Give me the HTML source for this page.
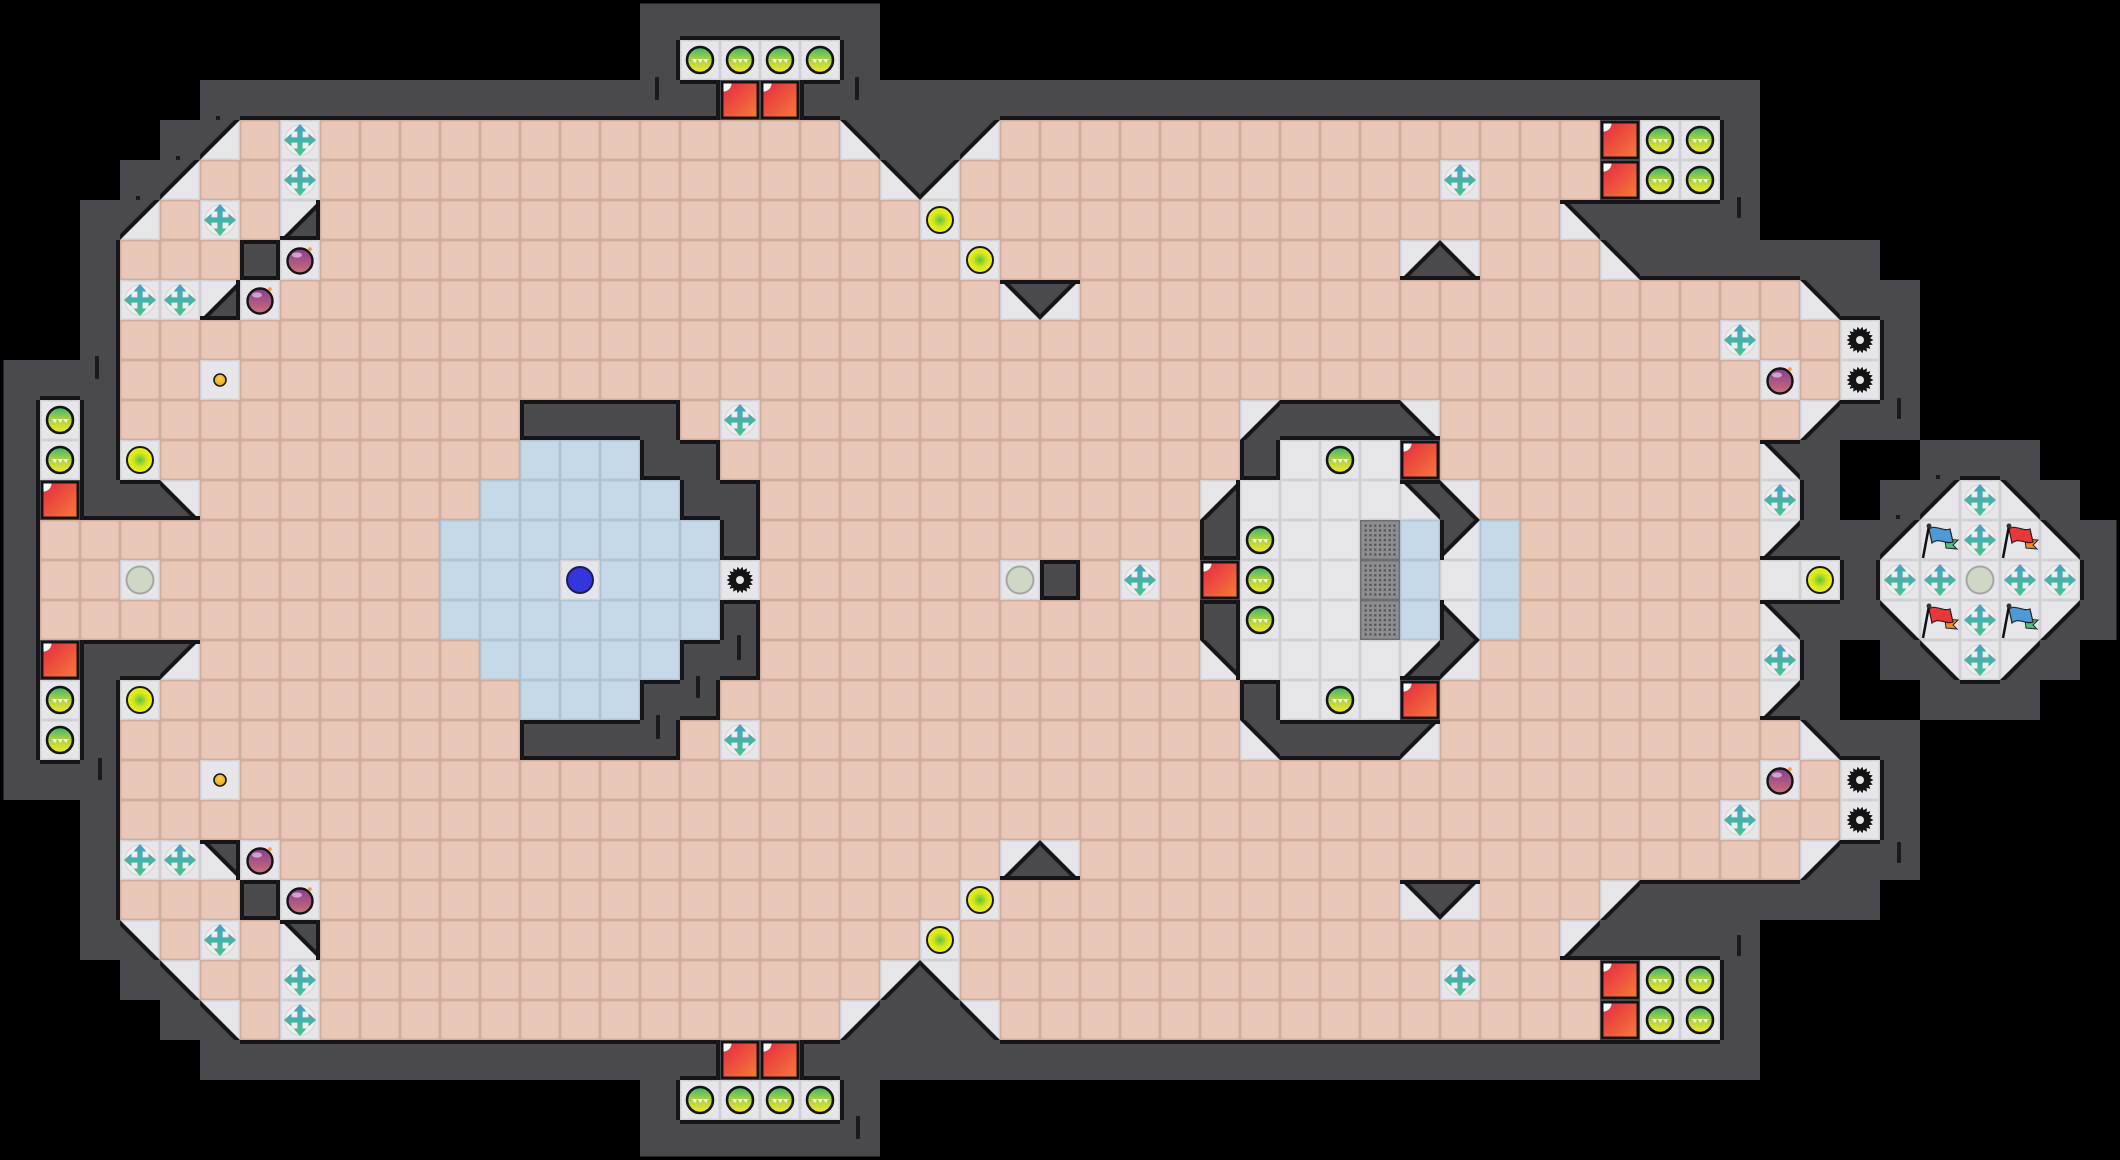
<!DOCTYPE html>
<html><head><meta charset="utf-8"><title>map</title>
<style>html,body{margin:0;padding:0;background:#000;overflow:hidden}#wrap{width:2120px;height:1160px;background:#000}svg{display:block}</style>
</head><body><div id="wrap"></div>
<script>
(function(){
var F=function(n){return 'f'.repeat(n)},V=function(n){return '.'.repeat(n)},W=function(n){return '#'.repeat(n)};
var T=[
V(16)+W(6)+V(31),
V(16)+'#GGGG#'+V(31),
V(5)+W(13)+'RR'+W(24)+V(9),
V(4)+'#Af+'+F(13)+'B##A'+F(15)+'RGG#'+V(9),
V(3)+'#Aff+'+F(14)+'BA'+F(12)+'+fffRGG#'+V(9),
V(2)+'#Af+fD'+F(15)+'y'+F(15)+'B'+W(4)+V(9),
V(2)+'#fff#o'+F(16)+'y'+F(10)+'DCfffB'+W(6)+V(6),
V(2)+'#++Do'+F(18)+'BA'+F(18)+'B##'+V(5),
V(2)+'#'+F(40)+'+ffx#'+V(5),
'###ffu'+F(38)+'ofx#'+V(5),
'#G#'+F(10)+'####f+'+F(12)+'D###C'+F(9)+'D##'+V(5),
'#G#y'+F(9)+'bbb##'+F(13)+'#gGgR'+F(8)+'B#..###..',
'#R##C'+F(7)+'bbbbb##'+F(11)+'DggggBC'+F(7)+'+#.#A+B#.',
'#'+F(10)+'bbbbbbb#'+F(11)+'#GggzbAb'+F(6)+'D##AF+EB#',
'#ffn'+F(7)+'bbbPbbbx'+F(6)+'n#f+fRGggzbgb'+F(6)+'gy#++n++#'
];
var M=T.slice();
var sw={A:'C',C:'A',B:'D',D:'B',F:'E',E:'F'};
for(var r=15;r<29;r++){M[r]=T[28-r].split('').map(function(c){return sw[c]||c}).join('');}
var o=[];
function G(c,r){if(r<0||r>=29||c<0||c>=53)return '.';return M[r].charAt(c)||'.';}
var DM={A:'tl',B:'tr',C:'bl',D:'br'};
function dark(ch,s){if(ch==='#')return true;var m=DM[ch];return m?m.indexOf(s)>=0:false;}
function base(x,y,b,f){o.push('<rect x="'+x+'" y="'+y+'" width="40" height="40" fill="'+b+'"/><rect x="'+(x+1.5)+'" y="'+(y+1.5)+'" width="37" height="37" fill="'+f+'"/>');}
var WALL='#4a494e',EDGE='#161618';
for(var r=0;r<29;r++)for(var c=0;c<53;c++){
 var ch=G(c,r),x=c*40,y=r*40;
 if(ch==='.'||ch==='#')continue;
 if(ch==='f')base(x,y,'#d4ae9d','#e9c7b8');
 else if(ch==='b')base(x,y,'#afc5d5','#c5d9e8');
 else if(ch==='R'){o.push('<rect x="'+x+'" y="'+y+'" width="40" height="40" fill="'+WALL+'"/>');}
 else base(x,y,'#cfcfd4','#e6e6ea');
}
for(var r=0;r<29;r++)for(var c=0;c<53;c++){
 if(G(c,r)==='#')o.push('<rect x="'+(c*40)+'" y="'+(r*40)+'" width="40" height="40" fill="'+WALL+'"/>');
}
var CR={A:[[0,0],[40,0],[0,40]],B:[[40,0],[40,40],[0,0]],C:[[0,40],[0,0],[40,40]],D:[[40,40],[0,40],[40,0]]};
for(var r=0;r<29;r++)for(var c=0;c<53;c++){
 var ch=G(c,r);if(!CR[ch])continue;
 var x=c*40,y=r*40,k=CR[ch],cc=k[0],p1=k[1],p2=k[2],d=5.7;
 var q1=[p1[0]+(cc[0]-p1[0])/40*d,p1[1]+(cc[1]-p1[1])/40*d],q2=[p2[0]+(cc[0]-p2[0])/40*d,p2[1]+(cc[1]-p2[1])/40*d];
 var P=function(a){return (x+a[0])+','+(y+a[1]);};
 o.push('<polygon points="'+P(cc)+' '+P(p1)+' '+P(p2)+'" fill="'+EDGE+'"/>');
 o.push('<polygon points="'+P(cc)+' '+P(q1)+' '+P(q2)+'" fill="'+WALL+'"/>');
}
var sides=[['t',0,-1,'b'],['b',0,1,'t'],['l',-1,0,'r'],['r',1,0,'l']];
for(var r=0;r<29;r++)for(var c=0;c<53;c++){
 var ch=G(c,r);if(ch!=='#'&&!CR[ch])continue;
 var x=c*40,y=r*40;
 for(var i=0;i<4;i++){var s=sides[i];if(!dark(ch,s[0]))continue;var n=G(c+s[1],r+s[2]);if(n==='.')continue;if(dark(n,s[3]))continue;
  var rx=x,ry=y,w=40,h=40;
  if(s[0]==='t')h=4;else if(s[0]==='b'){ry=y+36;h=4;}else if(s[0]==='l')w=4;else{rx=x+36;w=4;}
  o.push('<rect x="'+rx+'" y="'+ry+'" width="'+w+'" height="'+h+'" fill="'+EDGE+'"/>');}
}
function boost(cx,cy){
 o.push('<circle cx="'+cx+'" cy="'+cy+'" r="15" fill="#efeded" stroke="#ddd2d2" stroke-width="1"/>');
 var p='M'+(cx-2.6)+' '+(cy-8.5)+'h5.2v17h-5.2zM'+(cx-8.5)+' '+(cy-2.6)+'h17v5.2h-17z'
 +'M'+cx+' '+(cy-16)+'l6.5 7.5h-13zM'+cx+' '+(cy+16)+'l6.5 -7.5h-13zM'+(cx-16)+' '+cy+'l7.5 6.5v-13zM'+(cx+16)+' '+cy+'l-7.5 6.5v-13z';
 o.push('<path d="'+p+'" fill="url(#gB)"/>');
}
function spike(cx,cy){var pts=[];for(var i=0;i<36;i++){var a=i*Math.PI/18;var rr=(i%2==0)?13.5:10.3;pts.push((cx+rr*Math.cos(a)).toFixed(1)+','+(cy+rr*Math.sin(a)).toFixed(1));}
 o.push('<polygon points="'+pts.join(' ')+'" fill="#141414"/><circle cx="'+cx+'" cy="'+cy+'" r="4" fill="#e6e6ea"/>');}
function flag(x,y,c1,c2){
 o.push('<path d="M'+(x+25)+' '+(y+19)+'L'+(x+38)+' '+(y+20)+'L'+(x+33)+' '+(y+25)+'L'+(x+37)+' '+(y+29)+'L'+(x+26)+' '+(y+28)+'Z" fill="'+c2+'" stroke="#222" stroke-width="1"/>');
 o.push('<path d="M'+(x+9)+' '+(y+9)+'C'+(x+15)+' '+(y+4)+' '+(x+23)+' '+(y+12)+' '+(x+30)+' '+(y+9)+'L'+(x+33)+' '+(y+22)+'C'+(x+26)+' '+(y+25)+' '+(x+19)+' '+(y+17)+' '+(x+12)+' '+(y+23)+'Z" fill="'+c1+'" stroke="#222" stroke-width="1.2"/>');
 o.push('<line x1="'+(x+3)+'" y1="'+(y+38)+'" x2="'+(x+9)+'" y2="'+(y+6)+'" stroke="#111" stroke-width="2.5"/>');
 o.push('<circle cx="'+(x+9)+'" cy="'+(y+6)+'" r="2.5" fill="#333"/>');
}
for(var r=0;r<29;r++)for(var c=0;c<53;c++){
 var ch=G(c,r),x=c*40,y=r*40,cx=x+20,cy=y+20;
 switch(ch){
 case '+':boost(cx,cy);break;
 case 'o':o.push('<circle cx="'+cx+'" cy="'+(cy+1)+'" r="12.5" fill="url(#gBo)" stroke="#141414" stroke-width="2.4"/><ellipse cx="'+(cx-3)+'" cy="'+(cy-5)+'" rx="5" ry="2.6" fill="#fff" opacity="0.5"/><circle cx="'+(cx+10)+'" cy="'+(cy-11)+'" r="1.8" fill="#f39a2a"/>');break;
 case 'y':o.push('<circle cx="'+cx+'" cy="'+cy+'" r="13" fill="url(#gY)" stroke="#1a1a1a" stroke-width="2"/>');break;
 case 'G':o.push('<circle cx="'+cx+'" cy="'+cy+'" r="13" fill="url(#gG)" stroke="#141414" stroke-width="2.6"/><path d="M'+(cx-8)+' '+(cy-1)+'h5l-2 4zM'+(cx-2.5)+' '+(cy-1)+'h5l-2 4zM'+(cx+3)+' '+(cy-1)+'h5l-2 4z" fill="#fff"/>');break;
 case 'R':o.push('<rect x="'+(x+1)+'" y="'+(y+1)+'" width="38" height="38" fill="#141414"/><rect x="'+(x+3.5)+'" y="'+(y+3.5)+'" width="33" height="33" fill="url(#gR)"/><path d="M'+(x+3.5)+' '+(y+3.5)+'h8a8 8 0 0 1 -8 8z" fill="#fff"/>');break;
 case 'n':o.push('<circle cx="'+cx+'" cy="'+cy+'" r="13.5" fill="#cfd8c4" stroke="#a6a6a2" stroke-width="2"/>');break;
 case 'u':o.push('<circle cx="'+cx+'" cy="'+cy+'" r="6" fill="url(#gBt)" stroke="#1a1a1a" stroke-width="1.6"/>');break;
 case 'x':spike(cx,cy);break;
 case 'P':o.push('<circle cx="'+cx+'" cy="'+cy+'" r="13" fill="#3535dc" stroke="#1c1c55" stroke-width="2"/>');break;
 case 'z':o.push('<rect x="'+x+'" y="'+y+'" width="40" height="40" fill="#6e6e72"/><rect x="'+(x+1.5)+'" y="'+(y+1.5)+'" width="37" height="37" fill="#8e8e92"/>');
  for(var i=0;i<7;i++)for(var j=0;j<7;j++)o.push('<rect x="'+(x+4.5+i*4.8)+'" y="'+(y+4.5+j*4.8)+'" width="2.3" height="2.3" fill="#55555a"/>');break;
 case 'F':flag(x,y,'#4d9bd6','#4fc080');break;
 case 'E':flag(x,y,'#e8383a','#f28a2e');break;
 }
}
var ticks=[[95,356,4,23],[98,758,4,22],[655,77,4,23],[855,77,4,23],[856,1116,4,23],[1737,197,4,21],[1897,398,4,21],[1897,842,4,21],[1737,935,4,21],[737,635,4,25],[696,676,4,22],[656,715,4,24]];
ticks.forEach(function(t){o.push('<rect x="'+t[0]+'" y="'+t[1]+'" width="'+t[2]+'" height="'+t[3]+'" rx="1" fill="#1a1a1c"/>');});
var dots=[[216,116],[176,156],[136,196],[1936,475],[1896,515]];
dots.forEach(function(t){o.push('<rect x="'+t[0]+'" y="'+t[1]+'" width="4" height="4" fill="#1a1a1c"/>');});
o.push('<rect x="0" y="0" width="2120" height="1160" fill="none" stroke="#000" stroke-width="7"/>');
var defs='<defs>'
+'<linearGradient id="gB" x1="0" y1="0" x2="0" y2="1"><stop offset="0" stop-color="#4a9fc6"/><stop offset="1" stop-color="#45c38c"/></linearGradient>'
+'<linearGradient id="gG" x1="0" y1="0" x2="0" y2="1"><stop offset="0" stop-color="#34b46a"/><stop offset="0.45" stop-color="#a6cf42"/><stop offset="1" stop-color="#f2ea28"/></linearGradient>'
+'<radialGradient id="gY" cx="0.5" cy="0.5" r="0.5"><stop offset="0" stop-color="#5ec43c"/><stop offset="0.55" stop-color="#d4e61f"/><stop offset="1" stop-color="#f3f016"/></radialGradient>'
+'<linearGradient id="gR" x1="0" y1="0" x2="1" y2="1"><stop offset="0" stop-color="#e42a42"/><stop offset="1" stop-color="#f7793a"/></linearGradient>'
+'<linearGradient id="gBo" x1="0" y1="0" x2="0" y2="1"><stop offset="0" stop-color="#8a3a93"/><stop offset="1" stop-color="#c97078"/></linearGradient>'
+'<radialGradient id="gBt" cx="0.5" cy="0.4" r="0.6"><stop offset="0" stop-color="#ffd34a"/><stop offset="1" stop-color="#f0a11c"/></radialGradient>'
+'</defs>';
document.getElementById('wrap').innerHTML='<svg xmlns="http://www.w3.org/2000/svg" width="2120" height="1160" viewBox="0 0 2120 1160">'+defs+o.join('')+'</svg>';
})();
</script>
</body></html>
